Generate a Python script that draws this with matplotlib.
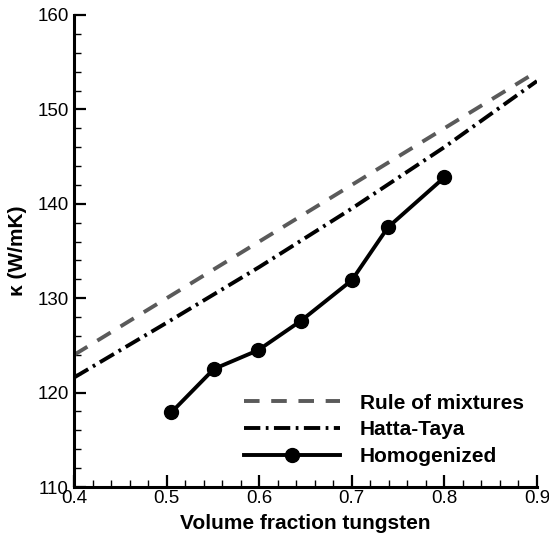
import numpy as np
import matplotlib
matplotlib.use("Agg")
from matplotlib import pyplot as plt

plt.rcParams['font.family'] = ['Liberation Sans', 'DejaVu Sans']

# data
vf_model = [0.4, 0.5, 0.6, 0.7, 0.8, 0.9]
k_mixtures = [124.0, 130.0, 136.0, 142.0, 148.0, 154.0]
k_hatta = [121.6, 127.4, 133.3, 139.5, 146.0, 153.0]

vf_homog = [0.505, 0.551, 0.599, 0.645, 0.700, 0.739, 0.800]
k_homog = [117.9, 122.5, 124.5, 127.6, 131.9, 137.5, 142.8]

fig = plt.figure(figsize=(5.49, 5.41), dpi=100)
ax = fig.add_axes([0.135, 0.0998, 0.843, 0.8725])

ax.plot(vf_model, k_mixtures, color="#5a5a5a", lw=2.8, dashes=(4, 3),
        label="Rule of mixtures")
ax.plot(vf_model, k_hatta, color="black", lw=2.8, dashes=(4.2, 1.4, 0.7, 1.4),
        label="Hatta-Taya")
ax.plot(vf_homog, k_homog, color="black", lw=2.8, marker="o", ms=10,
        label="Homogenized")

ax.set_xlim(0.4, 0.9)
ax.set_ylim(110, 160)
ax.set_xticks(np.arange(0.4, 0.91, 0.1))
ax.set_yticks(np.arange(110, 161, 10))
ax.set_xticks(np.arange(0.4, 0.9, 0.02), minor=True)
ax.set_yticks(np.arange(110, 160, 2), minor=True)
ax.set_xticklabels(["0.4", "0.5", "0.6", "0.7", "0.8", "0.9"])

for side in ["top", "right"]:
    ax.spines[side].set_visible(False)
for side in ["left", "bottom"]:
    ax.spines[side].set_linewidth(2.2)

ax.tick_params(which="major", direction="in", length=8.6, width=1.6,
               labelsize=13.5, pad=2)
ax.tick_params(which="minor", direction="in", length=5, width=1.0)
ax.tick_params(axis="y", which="major", pad=4)

ax.set_xlabel("Volume fraction tungsten", fontsize=15, fontweight="bold", labelpad=5)
ax.set_ylabel("κ (W/mK)", fontsize=15, fontweight="bold", labelpad=7)

ax.legend(loc="lower left", bbox_to_anchor=(0.345, 0.022), frameon=False,
          prop={"size": 15, "weight": "bold"}, handlelength=4.6,
          handletextpad=0.95, labelspacing=0.37, borderpad=0)

fig.savefig("out.png", dpi=100)
